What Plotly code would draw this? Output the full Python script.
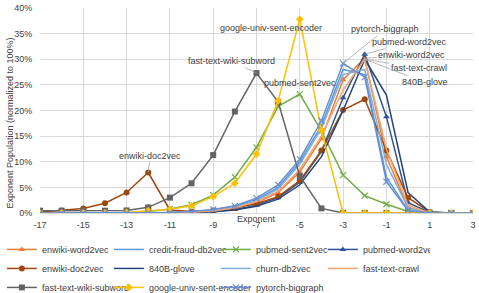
import plotly.graph_objects as go

exponents = list(range(-17, 4))

enwiki_word2vec = [0, 0, 0, 0, 0, 0, 0.05, 0.15, 0.4, 1.0, 2.0, 4.0, 8.0, 14.5, 26.0, 30.2, 11.0, 1.0, 0.1, 0, 0]
credit_fraud_db2vec = [0, 0, 0, 0, 0, 0, 0.1, 0.25, 0.6, 1.3, 2.6, 5.0, 10.0, 17.0, 28.0, 27.0, 7.0, 0.5, 0, 0, 0]
pubmed_sent2vec = [0, 0, 0, 0, 0, 0.3, 0.8, 1.6, 3.5, 7.0, 12.8, 20.8, 23.2, 16.0, 7.4, 3.4, 1.7, 0.3, 0, 0, 0]
pubmed_word2vec = [0, 0, 0, 0, 0, 0, 0.05, 0.1, 0.3, 0.7, 1.5, 3.0, 6.0, 12.0, 22.5, 31.0, 18.8, 2.0, 0.1, 0, 0]
enwiki_doc2vec = [0.2, 0.5, 0.9, 1.9, 4.0, 7.9, 0.6, 0.3, 0.5, 1.0, 1.8, 3.2, 6.3, 12.2, 20.1, 22.2, 12.2, 3.0, 0.2, 0, 0]
glove_840b = [0, 0, 0, 0, 0, 0, 0.05, 0.1, 0.25, 0.6, 1.3, 2.7, 5.5, 11.0, 20.0, 30.0, 23.0, 4.0, 0.2, 0, 0]
churn_db2vec = [0, 0, 0, 0, 0, 0, 0.1, 0.2, 0.5, 1.2, 2.4, 4.7, 9.5, 16.5, 27.0, 28.0, 9.5, 1.0, 0, 0, 0]
fast_text_crawl = [0, 0, 0, 0, 0, 0, 0.05, 0.15, 0.4, 1.0, 2.2, 4.2, 8.5, 15.0, 24.0, 30.0, 12.5, 1.5, 0, 0, 0]
fast_text_wiki_subword = [0.45, 0.45, 0.45, 0.45, 0.5, 1.1, 3.0, 5.8, 11.3, 19.8, 27.3, 21.7, 7.2, 0.9, 0, 0, 0, 0, 0, 0, 0]
google_univ_sent_encoder = [0, 0, 0, 0, 0.1, 0.45, 0.7, 1.4, 3.2, 5.8, 11.5, 21.9, 37.8, 16.1, 0, 0, 0, 0, 0, 0, 0]
pytorch_biggraph = [0, 0, 0, 0, 0, 0, 0.1, 0.3, 0.7, 1.4, 2.9, 5.5, 10.5, 18.0, 29.2, 26.5, 6.1, 0.5, 0, 0, 0]

x_ticks = list(range(-17, 4, 2))
y_ticks = [0, 5, 10, 15, 20, 25, 30, 35, 40]

series = [
    ("enwiki-word2vec", enwiki_word2vec, "#ED7D31", "triangle-up"),
    ("credit-fraud-db2vec", credit_fraud_db2vec, "#5B9BD5", None),
    ("pubmed-sent2vec", pubmed_sent2vec, "#70AD47", "x-thin"),
    ("pubmed-word2vec", pubmed_word2vec, "#2F5597", "triangle-up"),
    ("enwiki-doc2vec", enwiki_doc2vec, "#9E480E", "circle"),
    ("840B-glove", glove_840b, "#264478", None),
    ("churn-db2vec", churn_db2vec, "#7CAFDD", None),
    ("fast-text-crawl", fast_text_crawl, "#F4A56F", None),
    ("fast-text-wiki-subword", fast_text_wiki_subword, "#636363", "square"),
    ("google-univ-sent-encoder", google_univ_sent_encoder, "#FFC000", "diamond"),
    ("pytorch-biggraph", pytorch_biggraph, "#698ED0", "x-thin"),
]

FONT = "Liberation Sans, Arial, sans-serif"
TXT = "#404040"

fig = go.Figure()
for name, vals, color, sym in series:
    y = [v / 100 for v in vals]
    if sym:
        mk = dict(symbol=sym, size=6, color=color,
                  line=dict(color=color, width=1.2 if "thin" in sym else 0))
        fig.add_trace(go.Scatter(x=exponents, y=y, name=name, mode="lines+markers",
                                 line=dict(color=color, width=1.5), marker=mk))
    else:
        fig.add_trace(go.Scatter(x=exponents, y=y, name=name, mode="lines",
                                 line=dict(color=color, width=1.5)))

ann_font = dict(family=FONT, size=9, color=TXT)
labels = [
    ("google-univ-sent-encoder", -5, google_univ_sent_encoder[12], -29, 9, False),
    ("fast-text-wiki-subword", -7, fast_text_wiki_subword[10], -25, -12, True),
    ("pubmed-sent2vec", -5, pubmed_sent2vec[12], 0, -11, False),
    ("enwiki-doc2vec", -12, enwiki_doc2vec[5], 2, -17, True),
    ("pytorch-biggraph", -3, pytorch_biggraph[14], 42, -34, True),
    ("pubmed-word2vec", -2, pubmed_word2vec[15], 45, -12, True),
    ("enwiki-word2vec", -2, enwiki_word2vec[15], 47, -3, True),
    ("fast-text-crawl", -2, fast_text_crawl[15], 54, 9, True),
    ("840B-glove", -2, glove_840b[15], 60, 23, True),
]
for text, xv, yv, ax, ay, arrow in labels:
    fig.add_annotation(x=xv, y=yv / 100, text=text, showarrow=True, ax=ax, ay=ay,
                       arrowhead=0, arrowwidth=0.8,
                       arrowcolor="#A6A6A6" if arrow else "rgba(0,0,0,0)",
                       font=ann_font, standoff=0)

fig.add_annotation(x=0.5, y=0, xref="paper", yref="paper", yanchor="middle", yshift=-6,
                   text="Exponent", showarrow=False, font=dict(family=FONT, size=9, color=TXT))
fig.add_annotation(x=-0.07, y=0.44, xref="paper", yref="paper", xanchor="center", yanchor="middle",
                   textangle=-90, text="Exponent Population (normalized to 100%)", showarrow=False,
                   font=dict(family=FONT, size=9, color=TXT))

fig.update_layout(
    width=479, height=293,
    margin=dict(l=40, r=6, t=8, b=80, autoexpand=False),
    paper_bgcolor="white", plot_bgcolor="white",
    font=dict(family=FONT, size=9, color=TXT),
    showlegend=True,
    legend=dict(orientation="h", x=-0.088, y=-0.107, xanchor="left", yanchor="top",
                entrywidth=62, entrywidthmode="pixels", font=dict(size=9),
                itemwidth=30, tracegroupgap=0, bgcolor="rgba(0,0,0,0)"),
    xaxis=dict(range=[-17, 3], tickvals=x_ticks, ticktext=[str(t) for t in x_ticks],
               showgrid=True, gridcolor="#D9D9D9", gridwidth=1, zeroline=False,
               showline=True, linecolor="#D9D9D9", ticks="outside", ticklen=3,
               tickcolor="rgba(0,0,0,0)", tickfont=dict(size=9, color=TXT), automargin=False),
    yaxis=dict(range=[0, 0.4], tickvals=[v / 100 for v in y_ticks], tickformat=".0%",
               showgrid=True, gridcolor="#D9D9D9", zeroline=False,
               ticks="outside", ticklen=5, tickcolor="rgba(0,0,0,0)",
               tickfont=dict(size=9, color=TXT), automargin=False),
)

fig.write_html("out.html", config={"displayModeBar": False},
               post_script="document.body.style.margin='0';")
